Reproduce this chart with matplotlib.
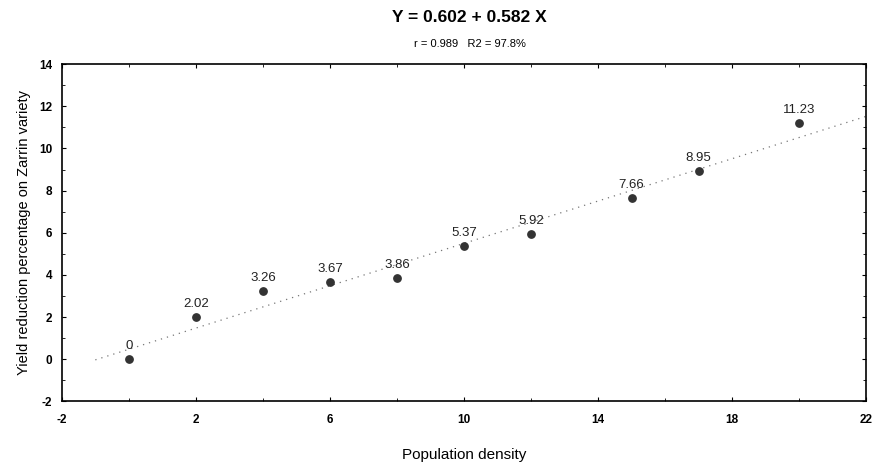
import numpy as np
import matplotlib
matplotlib.use("Agg")
import matplotlib.pyplot as plt
from matplotlib.ticker import MultipleLocator

plt.rcParams['font.family'] = ['Liberation Sans', 'DejaVu Sans']
plt.rcParams['axes.unicode_minus'] = False

density = [0, 2, 4, 6, 8, 10, 12, 15, 17, 20]
reduction = [0.0, 2.02, 3.26, 3.67, 3.86, 5.37, 5.92, 7.66, 8.95, 11.23]
point_labels = ["0", "2.02", "3.26", "3.67", "3.86", "5.37", "5.92", "7.66", "8.95", "11.23"]
xticks = [-2, 2, 6, 10, 14, 18, 22]
yticks = [-2, 0, 2, 4, 6, 8, 10, 12, 14]

fig = plt.figure(figsize=(8.83, 4.75), dpi=100)
ax = fig.add_axes([0.070, 0.155, 0.911, 0.71])

slope, intercept = np.polyfit(density, reduction, 1)
xl = np.linspace(-1, 22, 100)
ax.plot(xl, intercept + slope * xl, linestyle=(0, (1, 4)), color='#777777', lw=0.9)

ax.scatter(density, reduction, s=28, color='#333333', zorder=3)
for x, y, t in zip(density, reduction, point_labels):
    ax.annotate(t, (x, y), xytext=(0, 5), textcoords='offset points',
                ha='center', va='bottom', fontsize=9.5, color='#222222')

ax.set_xlim(-2, 22)
ax.set_ylim(-2, 14)
ax.set_xticks(xticks)
ax.set_yticks(yticks)
ax.xaxis.set_minor_locator(MultipleLocator(2))
ax.yaxis.set_minor_locator(MultipleLocator(1))
ax.tick_params(which='both', direction='in', top=True, right=True, labelsize=8.5)
ax.tick_params(which='major', length=3)
ax.tick_params(which='minor', length=2)
ax.tick_params(axis='x', pad=9)
ax.tick_params(axis='y', pad=7)
for lab in ax.get_xticklabels() + ax.get_yticklabels():
    lab.set_fontweight('bold')
for s in ax.spines.values():
    s.set_linewidth(1.2)

ax.set_xlabel("Population density", fontsize=11, labelpad=16)
ax.set_ylabel("Yield reduction percentage on Zarrin variety", fontsize=10.5, labelpad=6)

fig.text(0.532, 0.978, "Y = 0.602 + 0.582 X", ha='center', va='top', fontsize=12.5, fontweight='bold')
fig.text(0.532, 0.918, "r = 0.989   R2 = 97.8%", ha='center', va='top', fontsize=8)

fig.savefig("out.png", dpi=100)
